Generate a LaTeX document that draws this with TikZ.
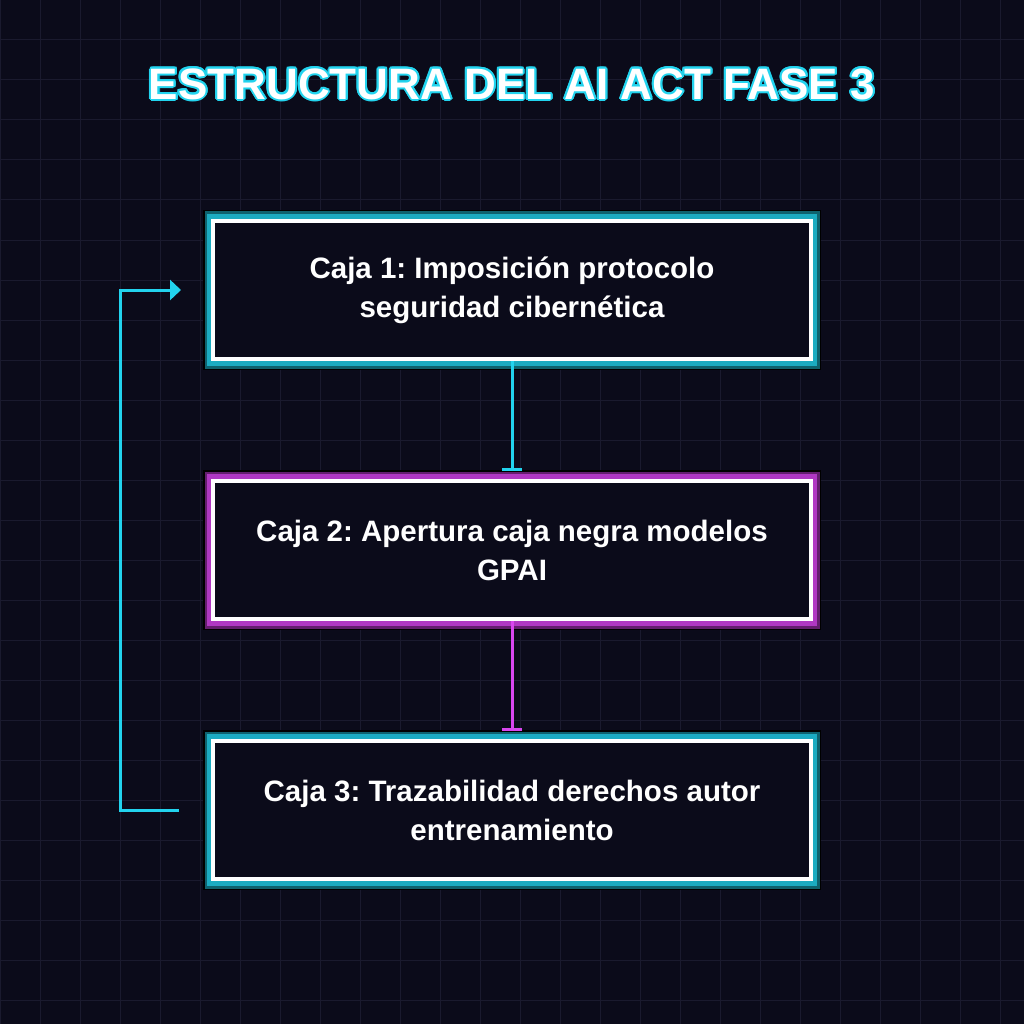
\documentclass[tikz,border=0pt]{standalone}
\usepackage{fontspec}
\setmainfont{Liberation Sans}
\usepackage[copies]{contour}
\usetikzlibrary{arrows.meta}
\frenchspacing
\definecolor{bgdark}{RGB}{11,11,26}
\definecolor{gridline}{RGB}{26,26,46}
\definecolor{neoncyan}{RGB}{34,211,238}
\definecolor{tealdark}{RGB}{14,98,110}
\definecolor{neonpink}{RGB}{217,70,239}
\definecolor{pinkdark}{RGB}{100,30,110}
\tikzset{
  box/.style={minimum width=598pt, minimum height=138pt, draw=white, line width=4pt,
    fill=bgdark, text=white, align=center, font=\fontsize{29.5}{39}\selectfont\bfseries},
  glowcyan/.style={draw=black, line width=14pt, postaction={draw=tealdark, line width=11pt},
    postaction={draw=neoncyan!65!tealdark, line width=6pt}},
  glowpink/.style={draw=black, line width=14pt, postaction={draw=pinkdark, line width=11pt},
    postaction={draw=neonpink!65!pinkdark, line width=6pt}},
  link/.style={line width=3pt, -{Bar[width=20pt,line width=3pt]}},
}
\begin{document}
\begin{tikzpicture}[x=1pt,y=-1pt]
  \fill[bgdark] (0,0) rectangle (1024,1024);
  \useasboundingbox (0,0) rectangle (1024,1024);
  \foreach \g in {0,40,...,1000} {
    \draw[gridline, line width=1pt] (\g,0) -- (\g,1024);
    \draw[gridline, line width=1pt] (0,\g) -- (1024,\g);
  }
  % title
  \node (title) at (512,85) {\fontsize{44}{50}\selectfont\bfseries
    \contourlength{2pt}\contour{neoncyan}{\color{white}ESTRUCTURA DEL AI ACT FASE 3}};
  % boxes
  \path[glowcyan] (210,217) rectangle (814,363);
  \node[box] (c1) at (512,290) {Caja 1: Imposición protocolo\\seguridad cibernética};
  \path[glowpink] (210,477) rectangle (814,623);
  \node[box] (c2) at (512,550) {Caja 2: Apertura caja negra modelos\\GPAI};
  \path[glowcyan] (210,737) rectangle (814,883);
  \node[box] (c3) at (512,810) {Caja 3: Trazabilidad derechos autor\\entrenamiento};
  % connectors
  \draw[link, neoncyan] (c1.south) -- ([yshift=8pt]c2.north);
  \draw[link, neonpink] (c2.south) -- ([yshift=8pt]c3.north);
  \coordinate (fbstart) at ([xshift=-32pt]c3.west);
  \coordinate (fbend) at ([xshift=-30pt]c1.west);
  \draw[neoncyan, line width=3pt, -{Triangle[width=20pt,length=11pt]}]
    (fbstart) -| (120,290) -- (fbend);
\end{tikzpicture}
\end{document}
